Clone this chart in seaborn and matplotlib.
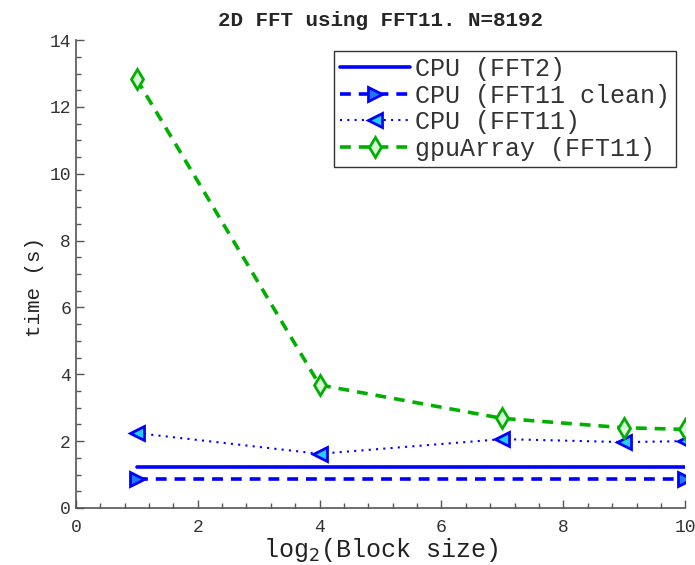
import matplotlib
matplotlib.use("Agg")
import matplotlib.pyplot as plt
import seaborn as sns
import pandas as pd
from matplotlib.ticker import MultipleLocator

# Data
x_fft2 = [1, 10]
y_fft2 = [1.23, 1.23]
x_clean = [1, 10]
y_clean = [0.87, 0.87]
x_fft11 = [1, 4, 7, 9, 10]
y_fft11 = [2.24, 1.62, 2.06, 1.97, 2.0]
x_gpu = [1, 4, 7, 9, 10]
y_gpu = [12.83, 3.68, 2.68, 2.40, 2.35]
labels = ["CPU (FFT2)", "CPU (FFT11 clean)", "CPU (FFT11)", "gpuArray (FFT11)"]

sns.set_style("white")
plt.rcParams['font.family'] = ['Liberation Mono', 'DejaVu Sans Mono']

fig = plt.figure(figsize=(6.95, 5.65), dpi=100)
ax = fig.add_axes([0.109, 0.101, 0.877, 0.828])

blue = "#0000ff"
green = "#00b000"

sns.lineplot(x=x_fft2, y=y_fft2, ax=ax, color=blue, linewidth=2.6, linestyle='-',
             label=labels[0])
sns.lineplot(x=x_clean, y=y_clean, ax=ax, color=blue, linewidth=2.6, linestyle=(0, (3, 2.2)),
             marker='>', markersize=10, markerfacecolor="#1e78ff", markeredgecolor=blue,
             markeredgewidth=2, label=labels[1])
sns.lineplot(x=x_fft11, y=y_fft11, ax=ax, color=blue, linewidth=1.5, linestyle=(0, (1, 2.5)),
             marker='<', markersize=10, markerfacecolor="#20d0ff", markeredgecolor=blue,
             markeredgewidth=2, label=labels[2])
sns.lineplot(x=x_gpu, y=y_gpu, ax=ax, color=green, linewidth=2.6, linestyle=(0, (3, 2.2)),
             marker='d', markersize=10, markerfacecolor="#d8f5d8", markeredgecolor=green,
             markeredgewidth=2, label=labels[3])

ax.set_xlim(0, 10)
ax.set_ylim(0, 14)
ax.xaxis.set_major_locator(MultipleLocator(2))
ax.xaxis.set_minor_locator(MultipleLocator(0.4))
ax.yaxis.set_major_locator(MultipleLocator(2))
ax.yaxis.set_minor_locator(MultipleLocator(0.5))

for side in ['top', 'right']:
    ax.spines[side].set_visible(False)
for side in ['left', 'bottom']:
    ax.spines[side].set_color('#555555')
    ax.spines[side].set_linewidth(1.2)

ax.tick_params(which='both', direction='in', colors='#555555', labelcolor='#333333',
               left=True, bottom=True)
ax.tick_params(which='major', length=6, width=1, labelsize=13)
ax.tick_params(axis='x', which='major', pad=8)
ax.tick_params(which='minor', length=3.5, width=1)

ax.set_title("2D FFT using FFT11. N=8192", fontsize=15, fontweight='bold', pad=10)
ax.set_xlabel(r"log$_2$(Block size)", fontsize=18, color='#222222', labelpad=0)
ax.set_ylabel("time (s)", fontsize=15, color='#222222', labelpad=4, y=0.472)

leg = ax.legend(loc='upper right', bbox_to_anchor=(0.985, 0.977), fontsize=18,
                frameon=True, fancybox=False, handlelength=2.8, handletextpad=0.2,
                borderpad=0.25, labelspacing=0.1, borderaxespad=0)
leg.get_frame().set_edgecolor('black')
leg.get_frame().set_linewidth(1.0)
for t in leg.get_texts():
    t.set_color('#333333')

fig.savefig("out.png", dpi=100)
